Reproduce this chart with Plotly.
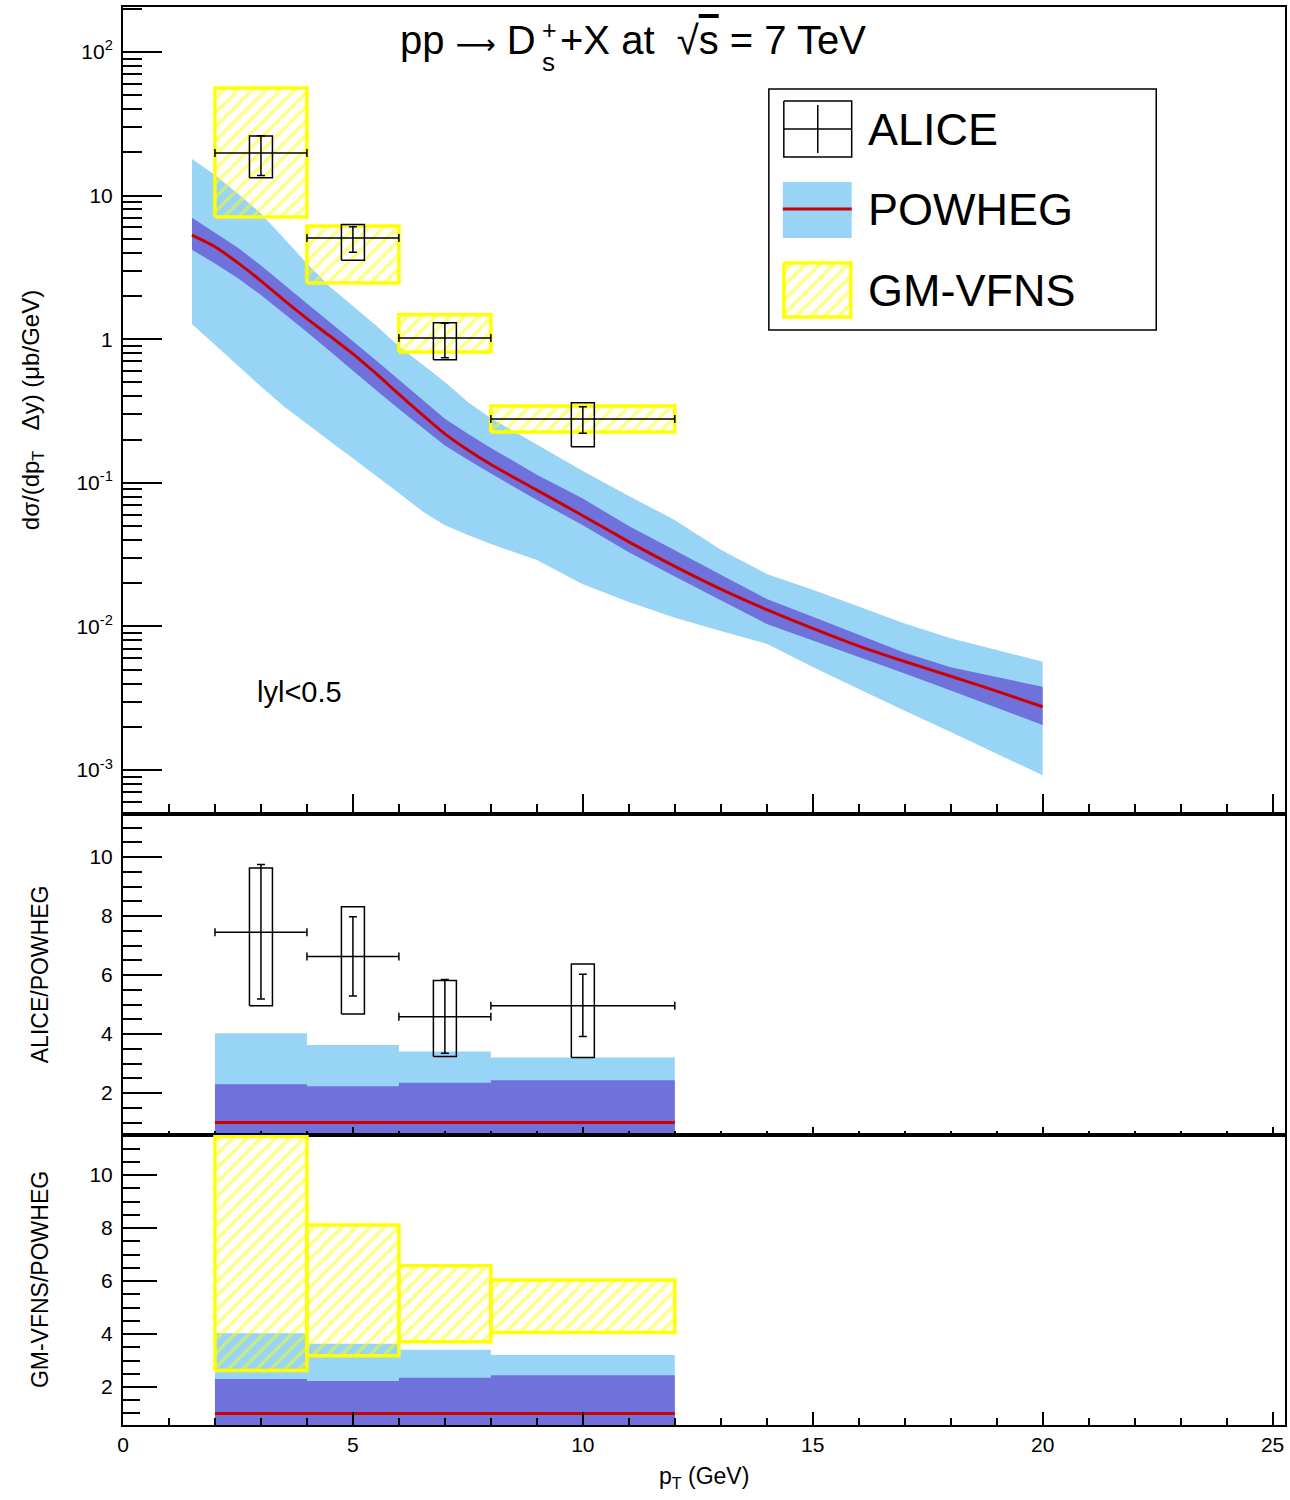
import plotly.graph_objects as go

# ---------------- POWHEG prediction (|y|<0.5), ub/GeV ----------------
pt_grid = [1.5, 2, 2.5, 3, 3.5, 4, 4.5, 5, 5.5, 6, 6.5, 7, 7.5, 8,
           9, 10, 11, 12, 13, 14, 15, 16, 17, 18, 19, 20]
powheg_central = [5.3, 4.4, 3.40, 2.55, 1.87, 1.39, 1.05, 0.79, 0.577, 0.414,
                  0.299, 0.219, 0.169, 0.134, 0.089, 0.059, 0.0388, 0.0262,
                  0.0182, 0.0131, 0.0097, 0.0073, 0.0057, 0.0045, 0.00354, 0.00276]
powheg_scale_hi = [7.0, 5.52, 4.33, 3.26, 2.40, 1.77, 1.31, 0.966, 0.713, 0.522,
                   0.382, 0.279, 0.220, 0.175, 0.114, 0.0776, 0.050, 0.0339,
                   0.0229, 0.0155, 0.01167, 0.00875, 0.00656, 0.00519, 0.00444, 0.0038]
powheg_scale_lo = [4.2, 3.36, 2.66, 2.03, 1.51, 1.12, 0.824, 0.603, 0.442, 0.327,
                   0.244, 0.182, 0.1445, 0.116, 0.0759, 0.0506, 0.0328, 0.0223,
                   0.0152, 0.0104, 0.00798, 0.00612, 0.0047, 0.00358, 0.00271, 0.00206]
powheg_total_hi = [18.0, 13.9, 10.3, 7.5, 5.04, 3.36, 2.32, 1.70, 1.25, 0.89,
                   0.672, 0.504, 0.365, 0.282, 0.185, 0.121, 0.081, 0.055,
                   0.0342, 0.0232, 0.018, 0.01377, 0.0105, 0.00828, 0.00686, 0.00568]
powheg_total_lo = [1.27, 0.916, 0.654, 0.469, 0.340, 0.258, 0.195, 0.148, 0.112, 0.085,
                   0.0637, 0.0507, 0.0433, 0.0375, 0.029, 0.0197, 0.0148, 0.0115,
                   0.0093, 0.00757, 0.00521, 0.00366, 0.00259, 0.00184, 0.0013, 0.00092]

# ---------------- pT bins of the measurement ----------------
bin_lo = [2, 4, 6, 8]
bin_hi = [4, 6, 8, 12]
alice_pt = [3, 5, 7, 10]
sys_halfwidth = 0.25

# ALICE D_s+ cross section
alice_val = [19.8, 5.07, 1.02, 0.278]
alice_stat_hi = [26.1, 6.07, 1.29, 0.339]
alice_stat_lo = [13.8, 4.03, 0.743, 0.221]
alice_sys_hi = [26.0, 6.3, 1.30, 0.361]
alice_sys_lo = [13.3, 3.55, 0.72, 0.178]

# GM-VFNS band
gmvfns_hi = [56.1, 6.14, 1.48, 0.343]
gmvfns_lo = [7.1, 2.46, 0.815, 0.226]

# ratios to POWHEG
ratio_alice_val = [7.45, 6.63, 4.59, 4.96]
ratio_alice_stat_hi = [9.75, 7.98, 5.85, 6.03]
ratio_alice_stat_lo = [5.19, 5.29, 3.35, 3.92]
ratio_alice_sys_hi = [9.63, 8.32, 5.82, 6.38]
ratio_alice_sys_lo = [4.96, 4.68, 3.24, 3.21]

ratio_gmvfns_hi = [11.45, 8.11, 6.58, 6.04]
ratio_gmvfns_lo = [2.62, 3.18, 3.71, 4.06]

ratio_powheg_central = [1.0, 1.0, 1.0, 1.0]
ratio_powheg_total_hi = [4.03, 3.63, 3.41, 3.21]
ratio_powheg_total_lo = [0.2, 0.2, 0.2, 0.2]
ratio_powheg_scale_hi = [2.30, 2.23, 2.35, 2.44]
ratio_powheg_scale_lo = [0.4, 0.4, 0.4, 0.4]

top_ticks = [1e-3, 1e-2, 1e-1, 1, 10, 100]
top_ticktext = ["10<sup>-3</sup>", "10<sup>-2</sup>", "10<sup>-1</sup>", "1", "10", "10<sup>2</sup>"]

# ---------------- styling ----------------
FONT = "Liberation Sans, Arial, Helvetica, sans-serif"
LIGHT = "#98d4f6"
DARK = "#7072dc"
RED = "#cc0000"
YELLOW = "#ffff00"
HATCH = dict(shape="/", fgcolor=YELLOW, bgcolor="rgba(0,0,0,0)", size=10, solidity=0.32)

X_RANGE = [0, 25.27]
DOM_BOT = [0.0, 0.2045]
DOM_MID = [0.2045, 0.4309]
DOM_TOP = [0.4309, 1.0]


def band_polygon(x, lo, hi):
    return list(x) + list(x)[::-1], list(hi) + list(lo)[::-1]


def step_polygon(lo_edges, hi_edges, lo, hi):
    xs, up, dn = [], [], []
    for a, b, l, h in zip(lo_edges, hi_edges, lo, hi):
        xs += [a, b]
        up += [h, h]
        dn += [l, l]
    return xs + xs[::-1], up + dn[::-1]


def step_line(lo_edges, hi_edges, vals):
    xs, ys = [], []
    for a, b, v in zip(lo_edges, hi_edges, vals):
        xs += [a, b]
        ys += [v, v]
    return xs, ys


def boxes(x0s, x1s, lows, highs):
    xs, ys = [], []
    for a, b, l, h in zip(x0s, x1s, lows, highs):
        xs += [a, b, b, a, a, None]
        ys += [l, l, h, h, l, None]
    return xs, ys


fig = go.Figure()


def add_powheg_top():
    px, py = band_polygon(pt_grid, powheg_total_lo, powheg_total_hi)
    fig.add_trace(go.Scatter(x=px, y=py, fill="toself", fillcolor=LIGHT, mode="none",
                             xaxis="x", yaxis="y", hoverinfo="skip"))
    px, py = band_polygon(pt_grid, powheg_scale_lo, powheg_scale_hi)
    fig.add_trace(go.Scatter(x=px, y=py, fill="toself", fillcolor=DARK, mode="none",
                             xaxis="x", yaxis="y", hoverinfo="skip"))
    fig.add_trace(go.Scatter(x=pt_grid, y=powheg_central, mode="lines",
                             line=dict(color=RED, width=3, shape="spline", smoothing=0.6),
                             xaxis="x", yaxis="y"))


def add_powheg_ratio(xa, ya):
    px, py = step_polygon(bin_lo, bin_hi, ratio_powheg_total_lo, ratio_powheg_total_hi)
    fig.add_trace(go.Scatter(x=px, y=py, fill="toself", fillcolor=LIGHT, mode="none",
                             xaxis=xa, yaxis=ya, hoverinfo="skip"))
    px, py = step_polygon(bin_lo, bin_hi, ratio_powheg_scale_lo, ratio_powheg_scale_hi)
    fig.add_trace(go.Scatter(x=px, y=py, fill="toself", fillcolor=DARK, mode="none",
                             xaxis=xa, yaxis=ya, hoverinfo="skip"))
    lx, ly = step_line(bin_lo, bin_hi, ratio_powheg_central)
    fig.add_trace(go.Scatter(x=lx, y=ly, mode="lines", line=dict(color=RED, width=3),
                             xaxis=xa, yaxis=ya))


def add_gmvfns(lo, hi, xa, ya):
    bx, by = boxes(bin_lo, bin_hi, lo, hi)
    fig.add_trace(go.Scatter(
        x=bx, y=by, mode="lines", fill="toself", fillcolor="rgba(0,0,0,0)",
        fillpattern=HATCH, line=dict(color=YELLOW, width=3.5),
        xaxis=xa, yaxis=ya, hoverinfo="skip"))


def add_alice(val, st_lo, st_hi, sy_lo, sy_hi, xa, ya):
    x0s = [c - sys_halfwidth for c in alice_pt]
    x1s = [c + sys_halfwidth for c in alice_pt]
    bx, by = boxes(x0s, x1s, sy_lo, sy_hi)
    fig.add_trace(go.Scatter(x=bx, y=by, mode="lines", line=dict(color="black", width=1.5),
                             xaxis=xa, yaxis=ya, hoverinfo="skip"))
    half = [c - a for c, a in zip(alice_pt, bin_lo)]
    fig.add_trace(go.Scatter(
        x=alice_pt, y=val, mode="markers",
        marker=dict(size=1, color="black"),
        error_x=dict(type="data", array=half, arrayminus=half,
                     symmetric=False, color="black", thickness=1.5, width=4),
        error_y=dict(type="data", array=[h - v for h, v in zip(st_hi, val)],
                     arrayminus=[v - l for v, l in zip(val, st_lo)],
                     symmetric=False, color="black", thickness=1.5, width=4),
        xaxis=xa, yaxis=ya))


# top panel
add_powheg_top()
add_gmvfns(gmvfns_lo, gmvfns_hi, "x", "y")
add_alice(alice_val, alice_stat_lo, alice_stat_hi, alice_sys_lo, alice_sys_hi, "x", "y")

# ALICE / POWHEG
add_powheg_ratio("x2", "y2")
add_alice(ratio_alice_val, ratio_alice_stat_lo, ratio_alice_stat_hi,
          ratio_alice_sys_lo, ratio_alice_sys_hi, "x2", "y2")

# GM-VFNS / POWHEG
add_powheg_ratio("x3", "y3")
add_gmvfns(ratio_gmvfns_lo, ratio_gmvfns_hi, "x3", "y3")

# ---------------- legend (helper axis, units = pixels inside the legend box) ----------------
fig.add_trace(go.Scatter(x=[15, 83, 83, 15, 15], y=[12, 12, 68, 68, 12], mode="lines",
                         line=dict(color="black", width=1.5), xaxis="x4", yaxis="y4"))
fig.add_trace(go.Scatter(x=[15, 83, None, 49, 49], y=[40, 40, None, 16, 64], mode="lines",
                         line=dict(color="black", width=1.5), xaxis="x4", yaxis="y4"))
fig.add_trace(go.Scatter(x=[14, 83, 83, 14, 14], y=[93, 93, 149, 149, 93], mode="none",
                         fill="toself", fillcolor=LIGHT, xaxis="x4", yaxis="y4"))
fig.add_trace(go.Scatter(x=[14, 83], y=[120, 120], mode="lines",
                         line=dict(color=RED, width=3), xaxis="x4", yaxis="y4"))
fig.add_trace(go.Scatter(
    x=[15, 82, 82, 15, 15], y=[174, 174, 228, 228, 174], mode="lines", fill="toself",
    fillcolor="rgba(0,0,0,0)", fillpattern=HATCH,
    line=dict(color=YELLOW, width=3.5), xaxis="x4", yaxis="y4"))

legend_labels = ["ALICE", "POWHEG", "GM-VFNS"]
annotations = []
for i, lab in enumerate(legend_labels):
    annotations.append(dict(text=lab, x=97, y=41 + 80 * i, xref="x4", yref="y4",
                            xanchor="left", yanchor="middle", showarrow=False,
                            font=dict(family=FONT, size=45, color="black")))

# ---------------- axes ----------------
def xaxis_cfg(anchor, major_len, minor_len, labels):
    return dict(domain=[0, 1], anchor=anchor, range=X_RANGE, tick0=0, dtick=5,
                ticks="inside", ticklen=major_len, tickwidth=1.5, tickcolor="black",
                minor=dict(dtick=1, ticks="inside", ticklen=minor_len, tickwidth=1.5,
                           tickcolor="black", showgrid=False),
                showline=True, linewidth=2, linecolor="black", mirror=True,
                showgrid=False, zeroline=False, showticklabels=labels,
                tickfont=dict(family=FONT, size=21, color="black"))


def ratio_yaxis(anchor, domain, rng, major_len, minor_len):
    return dict(domain=domain, anchor=anchor, range=rng, tick0=0, dtick=2,
                ticks="inside", ticklen=major_len, tickwidth=1.5, tickcolor="black",
                minor=dict(dtick=0.5, tick0=0, ticks="inside", ticklen=minor_len,
                           tickwidth=1.5, tickcolor="black", showgrid=False),
                showline=True, linewidth=2, linecolor="black", mirror=True,
                showgrid=False, zeroline=False, ticklabelstandoff=4,
                tickfont=dict(family=FONT, size=21, color="black"))


minor_log = [k * 10.0 ** e for e in range(-4, 3) for k in range(2, 10)]

layout_axes = dict(
    xaxis=xaxis_cfg("y", 20, 10, False),
    xaxis2=xaxis_cfg("y2", 8, 4, False),
    xaxis3=xaxis_cfg("y3", 13, 7, True),
    yaxis=dict(domain=DOM_TOP, anchor="x", type="log", range=[-3.306, 2.313],
               tickvals=top_ticks, ticktext=top_ticktext,
               ticks="inside", ticklen=39, tickwidth=1.5, tickcolor="black",
               minor=dict(tickvals=minor_log, ticks="inside", ticklen=19, tickwidth=1.5,
                          tickcolor="black", showgrid=False),
               showline=True, linewidth=2, linecolor="black", mirror=True,
               showgrid=False, zeroline=False, ticklabelstandoff=4,
               tickfont=dict(family=FONT, size=21, color="black")),
    yaxis2=ratio_yaxis("x2", DOM_MID, [0.58, 11.46], 39, 19),
    yaxis3=ratio_yaxis("x3", DOM_BOT, [0.566, 11.51], 34, 17),
    xaxis4=dict(domain=[0.5558, 0.8892], anchor="y4", range=[0, 388], visible=False,
                fixedrange=True),
    yaxis4=dict(domain=[0.7722, 0.9422], anchor="x4", range=[241, 0], visible=False,
                fixedrange=True),
)

# title: "pp -> D_s^+ + X at sqrt(s) = 7 TeV", with the D_s^+ indices stacked
TITLE_Y = 0.9767
TITLE_FONT = dict(family=FONT, size=40, color="black")
annotations += [
    dict(text="pp <span style='font-family:DejaVu Sans;font-size:28px'>\u27f6</span> D",
         x=0.3562, y=TITLE_Y, xref="paper", yref="paper", xanchor="right", yanchor="middle",
         showarrow=False, borderpad=0, font=TITLE_FONT),
    dict(text="+", x=0.3596, y=0.9732, xref="paper", yref="paper", xanchor="left",
         yanchor="bottom", showarrow=False, borderpad=0,
         font=dict(family=FONT, size=25, color="black")),
    dict(text="s", x=0.3596, y=0.9725, xref="paper", yref="paper", xanchor="left",
         yanchor="top", showarrow=False, borderpad=0,
         font=dict(family=FONT, size=26, color="black")),
    dict(text="+X at \u00a0\u221a<span style='text-decoration:overline'>s</span> = 7 TeV",
         x=0.3754, y=TITLE_Y, xref="paper", yref="paper", xanchor="left", yanchor="middle",
         showarrow=False, borderpad=0, font=TITLE_FONT),
    dict(text="lyl<0.5", x=0.1134, y=0.5169, xref="paper", yref="paper",
         xanchor="left", yanchor="middle", showarrow=False,
         font=dict(family=FONT, size=29, color="black")),
    dict(text="d\u03c3/(dp<sub>T</sub>\u00a0\u00a0\u00a0\u0394y) (\u03bcb/GeV)", x=-0.0773, y=0.7158,
         xref="paper", yref="paper", textangle=-90, xanchor="center", yanchor="middle",
         showarrow=False, font=dict(family=FONT, size=24, color="black")),
    dict(text="ALICE/POWHEG", x=-0.0713, y=0.318, xref="paper", yref="paper",
         textangle=-90, xanchor="center", yanchor="middle", showarrow=False,
         font=dict(family=FONT, size=23, color="black")),
    dict(text="GM-VFNS/POWHEG", x=-0.0713, y=0.1023, xref="paper", yref="paper",
         textangle=-90, xanchor="center", yanchor="middle", showarrow=False,
         font=dict(family=FONT, size=23, color="black")),
    dict(text="p<sub>T</sub> (GeV)", x=0.5, y=-0.0367, xref="paper", yref="paper",
         xanchor="center", yanchor="middle", showarrow=False,
         font=dict(family=FONT, size=23, color="black")),
]

fig.update_layout(
    width=1290, height=1500,
    margin=dict(l=123, r=3, t=7, b=75),
    paper_bgcolor="white", plot_bgcolor="white",
    showlegend=False,
    annotations=annotations,
    shapes=[dict(type="rect", xref="paper", yref="paper", x0=0.5558, x1=0.8892,
                 y0=0.7722, y1=0.9422, line=dict(color="black", width=1.5))],
    **layout_axes,
)

fig.write_html("out.html")
